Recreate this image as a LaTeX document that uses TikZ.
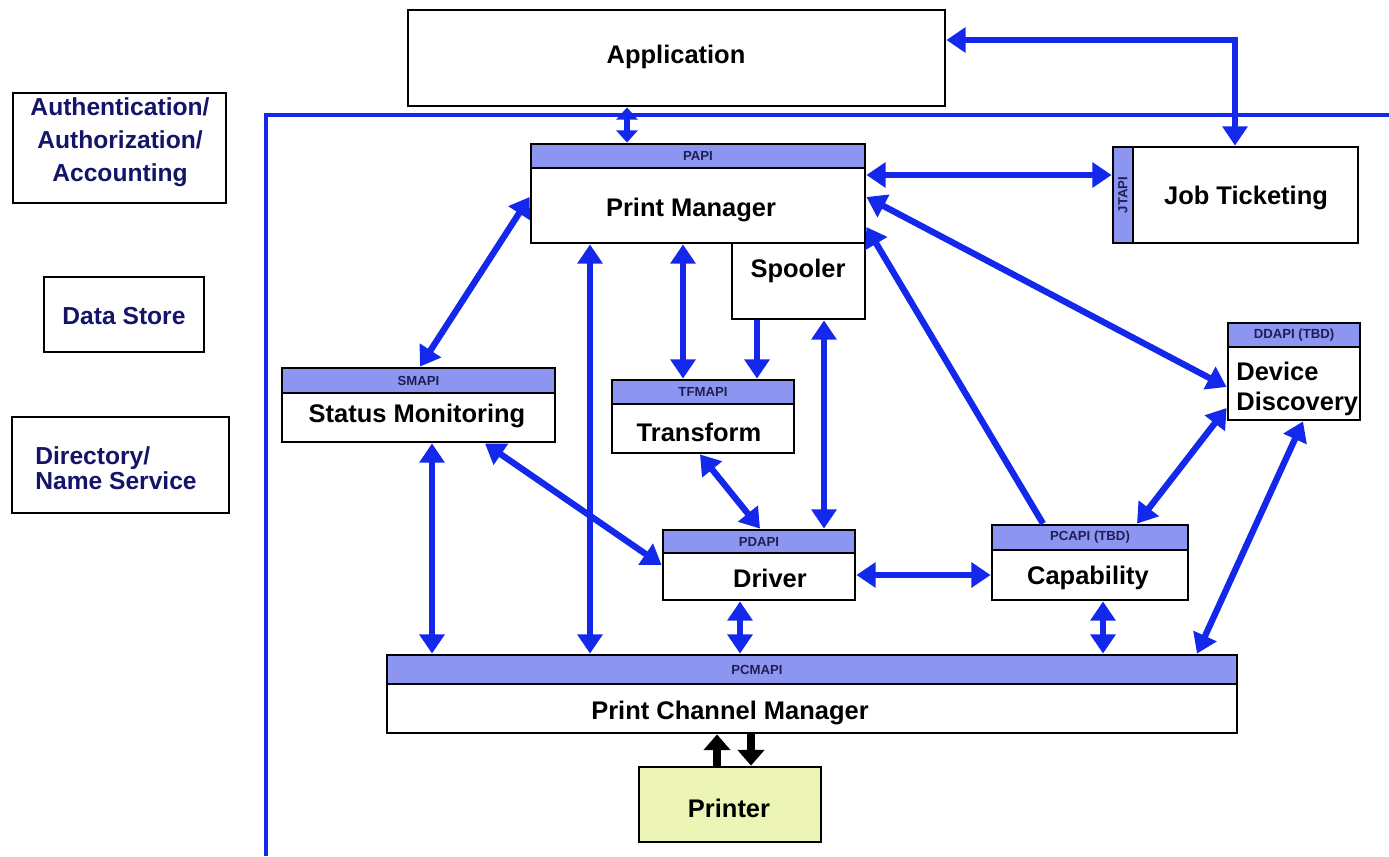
\documentclass[tikz,border=0pt]{standalone}
\usepackage{fontspec}
\setmainfont{Liberation Sans}
\usetikzlibrary{arrows.meta,fit,calc}
\definecolor{linkblue}{RGB}{20,40,235}
\definecolor{apifill}{RGB}{140,150,240}
\definecolor{apitext}{RGB}{30,30,85}
\definecolor{navytext}{RGB}{20,20,105}
\definecolor{printerfill}{RGB}{236,245,182}
\begin{document}
\begin{tikzpicture}[x=0.02cm,y=-0.02cm,
  box/.style={draw=black, line width=1.6pt, fill=white, inner sep=0pt},
  apibar/.style={draw=black, line width=1.2pt, fill=apifill, inner sep=0pt},
  apilabel/.style={font=\fontsize{7.5}{8}\selectfont\bfseries, text=apitext, inner sep=0pt},
  title/.style={font=\fontsize{14.5}{17}\selectfont\bfseries, text=black, inner sep=0pt},
  service/.style={font=\fontsize{14}{18.7}\selectfont\bfseries, text=navytext, inner sep=0pt},
  link/.style={draw=linkblue, line width=3.6pt, {Triangle[length=11pt,width=14pt]}-{Triangle[length=11pt,width=14pt]}},
  shortlink/.style={draw=linkblue, line width=3.6pt, {Triangle[length=7pt,width=12pt]}-{Triangle[length=7pt,width=12pt]}},
  oneway/.style={draw=linkblue, line width=3.6pt, -{Triangle[length=11pt,width=14pt]}},
  dataflow/.style={draw=black, line width=4pt, -{Triangle[length=9pt,width=15pt]}},
]
\useasboundingbox (0,0) rectangle (1389,856);

% system boundary
\draw[linkblue, line width=2.2pt] (266,856) -- (266,115) -- (1389,115);

% application on top
\node[box, fit={(408,10) (945,106)}] (app) {};
\node[title] (appt) at (676,57) {Application};

% shared services on the left
\node[box, fit={(13,93) (226,203)}] (aaa) {};
\node[service, align=center] (aaat) at (120,142) {Authentication/\\Authorization/\\Accounting};
\node[box, fit={(44,277) (204,352)}] (ds) {};
\node[service] (dst) at (124,316) {Data Store};
\node[box, fit={(12,417) (229,513)}] (dir) {};
\node[service, font=\fontsize{14}{14}\selectfont\bfseries, align=left, anchor=west] (dirt) at (35,468) {Directory/\\Name Service};

% print manager and spooler
\node[box, fit={(732,243) (865,319)}] (spool) {};
\node[title] (spoolt) at (798,271) {Spooler};
\node[box, fit={(531,144) (865,243)}] (pm) {};
\node[apibar, fit={(531,144) (865,168)}] (pmh) {};
\node[apilabel] (pmha) at (pmh.center) {PAPI};
\node[title] (pmt) at (691,210) {Print Manager};

% job ticketing
\node[box, fit={(1113,147) (1358,243)}] (jt) {};
\node[apibar, fit={(1113,147) (1133,243)}] (jth) {};
\node[apilabel, rotate=90] (jtha) at (jth.center) {JTAPI};
\node[title] (jtt) at (1246,198) {Job Ticketing};

% device discovery
\node[box, fit={(1228,323) (1360,420)}] (dd) {};
\node[apibar, fit={(1228,323) (1360,347)}] (ddh) {};
\node[apilabel] (ddha) at (ddh.center) {DDAPI (TBD)};
\node[title, align=left, anchor=west] (ddt) at (1236,389) {Device\\Discovery};

% status monitoring
\node[box, fit={(282,368) (555,442)}] (sm) {};
\node[apibar, fit={(282,368) (555,393)}] (smh) {};
\node[apilabel] (smha) at (smh.center) {SMAPI};
\node[title] (smt) at (417,416) {Status Monitoring};

% transform
\node[box, fit={(612,380) (794,453)}] (tf) {};
\node[apibar, fit={(612,380) (794,404)}] (tfh) {};
\node[apilabel] (tfha) at (tfh.center) {TFMAPI};
\node[title] (tft) at (699,432) {Transform};

% driver
\node[box, fit={(663,530) (855,600)}] (drv) {};
\node[apibar, fit={(663,530) (855,553)}] (drvh) {};
\node[apilabel] (drvha) at (drvh.center) {PDAPI};
\node[title] (drvt) at (770,578) {Driver};

% capability
\node[box, fit={(992,525) (1188,600)}] (cap) {};
\node[apibar, fit={(992,525) (1188,550)}] (caph) {};
\node[apilabel] (capha) at (caph.center) {PCAPI (TBD)};
\node[title] (capt) at (1088,578) {Capability};

% print channel manager
\node[box, fit={(387,655) (1237,733)}] (pcm) {};
\node[apibar, fit={(387,655) (1237,684)}] (pcmh) {};
\node[apilabel] (pcmha) at (757,670) {PCMAPI};
\node[title] (pcmt) at (730,713) {Print Channel Manager};

% printer
\node[box, fill=printerfill, fit={(639,767) (821,842)}] (prn) {};
\node[title] (prnt) at (729,808) {Printer};

% interfaces between components
\draw[shortlink] (app.south -| 627,0) -- (pm.north -| 627,0);
\draw[link] (app.east |- 0,40) -| (jt.north -| 1235,0);
\draw[link] (pm.east |- 0,175) -- (jt.west |- 0,175);
\draw[link] (pm.east |- 0,197) -- (dd.west |- 0,387);
\draw[oneway] (cap.north -| 1043,0) -- (pm.east |- 0,227);
\draw[link] (cap.north -| 1137,0) -- (dd.west |- 0,408);
\draw[link] (dd.south -| 1303,0) -- (pcm.north -| 1197,0);
\draw[link] (cap.south -| 1103,0) -- (pcm.north -| 1103,0);
\draw[link] (drv.east |- 0,575) -- (cap.west |- 0,575);
\draw[link] (drv.south -| 740,0) -- (pcm.north -| 740,0);
\draw[link] (pm.south -| 590,0) -- (pcm.north -| 590,0);
\draw[link] (pm.west |- 0,197) -- (sm.north -| 420,0);
\draw[link] (sm.south -| 432,0) -- (pcm.north -| 432,0);
\draw[link] (sm.south -| 485,0) -- (drv.west |- 0,565);
\draw[link] (tf.south -| 700,0) -- (drv.north -| 760,0);
\draw[link] (pm.south -| 683,0) -- (tf.north -| 683,0);
\draw[oneway] (spool.south -| 757,0) -- (tf.north -| 757,0);
\draw[link] (spool.south -| 824,0) -- (drv.north -| 824,0);

% data path to and from the printer
\draw[dataflow] (prn.north -| 717,0) -- (pcm.south -| 717,0);
\draw[dataflow] (pcm.south -| 751,0) -- (prn.north -| 751,0);
\end{tikzpicture}
\end{document}
